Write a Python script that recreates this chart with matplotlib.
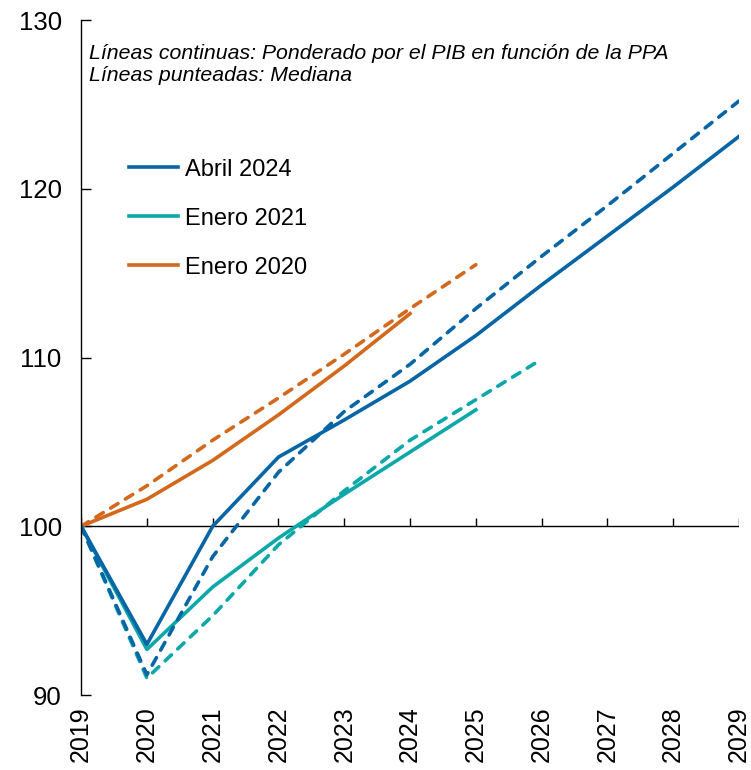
import matplotlib
matplotlib.use('Agg')
import matplotlib.pyplot as plt

plt.rcParams['font.family'] = ['Liberation Sans', 'DejaVu Sans']

years = [2019, 2020, 2021, 2022, 2023, 2024, 2025, 2026, 2027, 2028, 2029]

# Abril 2024
abr24_pond = [100.0, 93.0, 100.0, 104.1, 106.3, 108.6, 111.3, 114.3, 117.2, 120.1, 123.1]
abr24_med = [100.0, 91.2, 98.2, 103.2, 106.8, 109.6, 112.9, 116.0, 119.0, 122.1, 125.2]
# Enero 2021
ene21_pond = [100.0, 92.7, 96.4, 99.3, 101.9, 104.4, 106.9]
ene21_med = [100.0, 91.0, 94.7, 98.9, 102.1, 105.1, 107.5, 109.9]
# Enero 2020
ene20_pond = [100.0, 101.6, 103.9, 106.6, 109.5, 112.6]
ene20_med = [100.0, 102.4, 105.1, 107.6, 110.2, 112.9, 115.5]

c_blue = '#0565A5'
c_teal = '#0BA7A9'
c_orange = '#D2691C'

fig = plt.figure(figsize=(7.51, 7.70), dpi=100)
ax = fig.add_axes([0.108, 0.0974, 0.876, 0.8766])

lw = 2.6
dash = (0, (2.4, 2.4))
kw_d = dict(lw=lw, ls=dash, dash_capstyle='round')
ax.plot(years[:len(ene20_med)], ene20_med, color=c_orange, **kw_d)
ax.plot(years[:len(ene20_pond)], ene20_pond, color=c_orange, lw=lw)
ax.plot(years[:len(ene21_med)], ene21_med, color=c_teal, **kw_d)
ax.plot(years[:len(ene21_pond)], ene21_pond, color=c_teal, lw=lw)
ax.plot(years, abr24_med, color=c_blue, **kw_d)
ax.plot(years, abr24_pond, color=c_blue, lw=lw)

# legend-style handles
h1, = ax.plot([], [], color=c_blue, lw=lw, label='Abril 2024')
h2, = ax.plot([], [], color=c_teal, lw=lw, label='Enero 2021')
h3, = ax.plot([], [], color=c_orange, lw=lw, label='Enero 2020')
ax.legend(handles=[h1, h2, h3], loc='upper left', bbox_to_anchor=(0.04, 0.826),
          frameon=False, fontsize=17, handlelength=2.1, handletextpad=0.3,
          labelspacing=1.14)

ax.text(0.012, 0.965, 'Líneas continuas: Ponderado por el PIB en función de la PPA\n'
        'Líneas punteadas: Mediana', transform=ax.transAxes, ha='left', va='top',
        fontsize=15.3, style='italic', linespacing=1.2)

ax.set_xlim(2019, 2029)
ax.set_ylim(90, 130)
ax.set_yticks([90, 100, 110, 120, 130])
ax.set_xticks(years)
ax.set_xticklabels([str(y) for y in years], rotation=90)

# horizontal axis line at 100 with upward ticks
ax.axhline(100, color='black', lw=1.0, zorder=1)
ax.vlines(years, 100, 100.5, color='black', lw=1.0, zorder=1)

for s in ['top', 'right', 'bottom']:
    ax.spines[s].set_visible(False)
ax.spines['left'].set_linewidth(1.0)
ax.tick_params(axis='y', direction='in', length=7, width=1.0, labelsize=18.5, pad=14)
ax.tick_params(axis='x', length=0, labelsize=18, pad=8)

fig.savefig('out.png', dpi=100)
